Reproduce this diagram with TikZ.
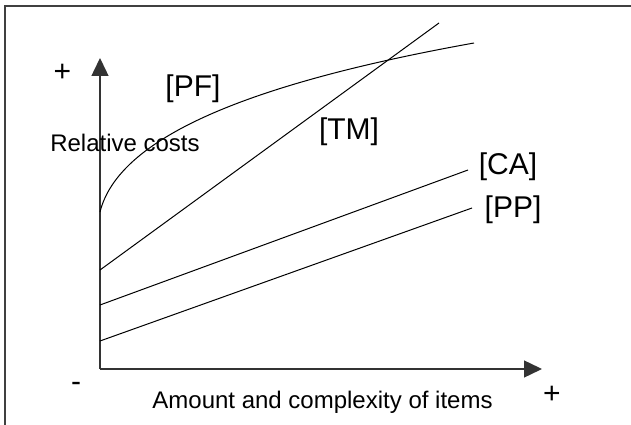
\documentclass[tikz,border=0pt]{standalone}
\usepackage{fontspec}
\setmainfont{Liberation Sans}
\usepackage{tikz}
\usetikzlibrary{arrows.meta}
\usetikzlibrary{positioning}

\tikzset{
  axis/.style={line width=1.4pt, black!80, -{Triangle[length=18pt,width=17pt]}},
  curve/.style={line width=1pt},
  lbl/.style={font=\fontsize{30}{34}\selectfont},
  ttl/.style={font=\fontsize{24}{28}\selectfont}
}

\begin{document}
\begin{tikzpicture}[x=1pt,y=1pt]
\useasboundingbox (0,0) rectangle (631,425);
\draw[line width=2pt, black!75] (5,0)--(5,419)--(631,419);
% axes
\coordinate (O) at (100,56);
\coordinate (ytip) at (100,367);
\coordinate (xtip) at (542,56);
\draw[axis] (O)--(ytip);
\draw[axis] (O)--(xtip);
% cost lines
\coordinate (pf0) at (100,213);
\coordinate (pf1) at (474,382);
\coordinate (tm0) at (100,155);
\coordinate (tm1) at (439,402);
\coordinate (ca0) at (100,120);
\coordinate (ca1) at (468,255);
\coordinate (pp0) at (100,84);
\coordinate (pp1) at (472,217);
\draw[curve] (pf0) .. controls (118,285) and (240,340) .. (pf1);
\draw[curve] (tm0)--(tm1);
\draw[curve] (ca0)--(ca1);
\draw[curve] (pp0)--(pp1);
% labels
\node[lbl] (yplus) at (62.5,352.5) {+};
\node[lbl] (xminus) at (76,38) {-};
\node[lbl] (xplus) at (552,30) {+};
\node[lbl] (PF) at (193,336) {[PF]};
\node[lbl] (TM) at (349,293) {[TM]};
\node[lbl] (CA) at (508,258) {[CA]};
\node[lbl] (PP) at (513,215) {[PP]};
\node[ttl] (ylab) at (125,282) {Relative costs};
\node[ttl, anchor=base] (xlab) at (322.5,16) {Amount and complexity of items};
\end{tikzpicture}
\end{document}
